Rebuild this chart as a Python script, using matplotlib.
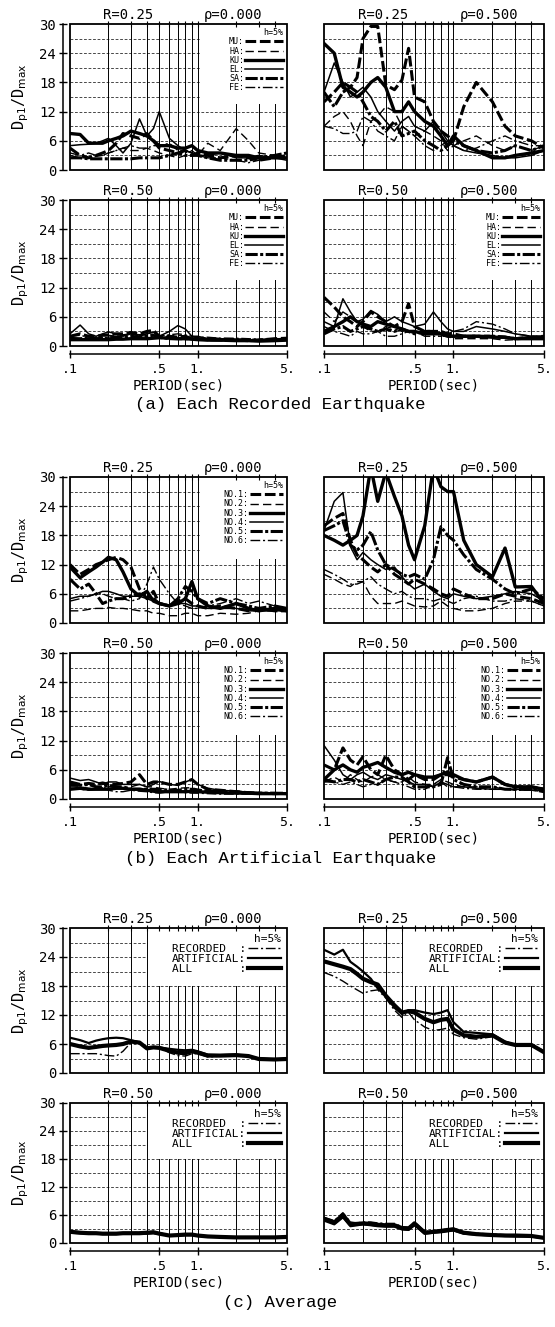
import numpy as np
import matplotlib.pyplot as plt
from matplotlib.patches import Rectangle
from matplotlib.ticker import FixedLocator, FixedFormatter, NullFormatter

plt.rcParams['font.family'] = ['DejaVu Sans Mono', 'DejaVu Sans']
plt.rcParams['mathtext.fontset'] = 'dejavusans'

# natural periods (sec) at which the spectra were plotted
periods = [0.1, 0.12, 0.14, 0.16, 0.18, 0.2, 0.23, 0.26, 0.3, 0.35, 0.4, 0.45, 0.5,
           0.6, 0.7, 0.8, 0.9, 1.0, 1.2, 1.5, 2.0, 2.5, 3.0, 4.0, 5.0]

rec_labels = ['MU:', 'HA:', 'KU:', 'EL:', 'SA:', 'FE:']
art_labels = ['NO.1:', 'NO.2:', 'NO.3:', 'NO.4:', 'NO.5:', 'NO.6:']
avg_labels = ['RECORDED  :', 'ARTIFICIAL:', 'ALL       :']

r_values = ['0.25', '0.25', '0.50', '0.50']
rho_values = ['0.000', '0.500', '0.000', '0.500']

# (a) recorded earthquakes, rows = MU, HA, KU, EL, SA, FE
rec_r25_p0 = [
    [4.5, 3.0, 2.5, 3.0, 3.5, 4.0, 5.5, 7.5, 7.0, 6.5, 7.5, 6.0, 4.5, 4.0, 3.5, 4.0, 3.0, 3.5, 3.0, 2.5, 3.0, 2.5, 2.0, 2.5, 3.0],
    [3.0, 2.5, 2.5, 2.8, 3.0, 3.5, 4.0, 4.5, 4.0, 4.0, 4.5, 4.0, 3.5, 3.0, 2.5, 3.0, 4.0, 3.0, 5.5, 4.0, 8.5, 6.0, 3.5, 3.0, 2.5],
    [7.5, 7.3, 5.5, 5.5, 5.5, 6.0, 6.5, 7.0, 8.0, 7.5, 7.0, 6.0, 5.0, 5.0, 4.5, 4.5, 5.0, 4.0, 3.5, 3.5, 3.0, 3.0, 2.5, 2.5, 2.5],
    [5.0, 5.2, 5.3, 5.5, 6.0, 6.5, 5.0, 3.5, 5.5, 10.5, 7.0, 8.5, 12.0, 6.5, 5.0, 4.0, 3.5, 3.0, 3.0, 3.5, 2.5, 2.5, 3.0, 2.5, 2.0],
    [2.5, 2.5, 2.3, 2.3, 2.3, 2.3, 2.3, 2.3, 2.3, 2.5, 2.5, 2.5, 2.5, 3.0, 3.5, 3.0, 3.0, 3.0, 2.5, 2.0, 2.0, 2.0, 2.5, 3.0, 3.5],
    [3.5, 3.0, 3.5, 3.0, 3.0, 3.5, 4.0, 4.5, 5.0, 4.5, 4.5, 5.0, 5.0, 5.5, 4.0, 4.0, 3.5, 3.0, 2.5, 2.5, 2.0, 1.5, 2.0, 2.5, 2.5],
]
rec_r25_p5 = [
    [14, 16, 18, 17, 19, 27, 29.5, 29.5, 17.5, 16.5, 18.5, 25, 15, 14, 10, 8, 7, 6, 13, 18, 14, 9, 7, 6, 4.5],
    [9, 11, 12, 10, 7, 5, 10, 11, 13, 12, 9, 8, 7, 8, 7, 6, 4, 5, 6, 7, 5, 4, 5, 4, 5],
    [26, 24, 17, 16, 15, 16, 18, 19, 17, 12, 12, 14, 12, 10, 9, 7, 5, 7, 5, 4, 2.5, 2.5, 3, 3.5, 4],
    [16, 22, 18, 15, 16, 17, 15, 12, 10, 8, 10, 11, 9, 8, 10, 8, 6, 5, 4, 3.5, 3, 2.5, 2.5, 3, 4],
    [16, 13, 16, 17, 16, 14, 11, 10, 8, 10, 7, 7.5, 8, 6, 5, 4, 5, 6, 5, 4, 3.5, 4, 5, 4, 5],
    [9, 8.5, 7.5, 7.5, 8, 11, 10, 8, 7, 6, 9, 8, 7, 5, 4, 5, 6, 5, 4, 4.5, 6, 7, 6, 5, 5],
]
rec_r50_p0 = [
    [2.0, 2.5, 2.0, 2.0, 2.2, 2.3, 2.5, 2.5, 2.8, 2.5, 3.0, 3.2, 2.0, 2.0, 1.8, 2.0, 1.5, 1.5, 1.5, 1.4, 1.3, 1.2, 1.2, 1.5, 1.6],
    [1.8, 1.5, 1.5, 1.6, 1.8, 1.8, 2.0, 2.2, 2.5, 2.0, 2.5, 3.0, 1.8, 2.0, 2.2, 2.0, 2.0, 1.6, 1.5, 1.5, 1.4, 1.3, 1.3, 1.4, 1.5],
    [1.3, 1.3, 1.3, 1.3, 1.3, 1.3, 1.4, 1.4, 1.5, 1.5, 1.5, 1.6, 1.7, 1.6, 1.5, 1.5, 1.4, 1.3, 1.2, 1.2, 1.1, 1.1, 1.0, 1.1, 1.2],
    [2.5, 4.3, 2.5, 2.0, 2.5, 2.9, 2.5, 2.0, 2.5, 2.3, 2.5, 2.8, 2.0, 3.0, 4.2, 3.5, 2.0, 2.0, 1.5, 1.5, 1.3, 1.2, 1.3, 1.4, 1.5],
    [1.5, 1.5, 1.6, 1.5, 1.5, 1.6, 1.8, 1.8, 2.0, 1.8, 2.0, 2.2, 1.8, 1.5, 1.5, 1.5, 1.5, 1.4, 1.3, 1.2, 1.2, 1.1, 1.2, 1.3, 1.4],
    [2.0, 2.2, 1.8, 1.8, 2.0, 2.2, 2.0, 2.3, 2.5, 2.2, 2.0, 2.5, 2.0, 2.3, 2.5, 2.3, 2.0, 1.8, 1.8, 1.6, 1.6, 1.5, 1.4, 1.4, 1.5],
]
rec_r50_p5 = [
    [10, 8, 6, 5, 4, 5, 7, 6, 5, 4, 5, 8.7, 4, 3, 3, 3, 2.5, 2.5, 2, 2, 2, 1.8, 1.5, 1.8, 2],
    [7, 5, 7, 6, 5, 4, 3, 3, 4, 3.5, 3, 3, 2.5, 2.5, 3, 2, 2, 1.5, 1.5, 1.5, 1.5, 1.2, 1.3, 1.5, 1.5],
    [3, 4, 5, 6, 5, 4.5, 4, 5, 4.5, 4, 3.5, 3, 3, 2.5, 2.5, 2.5, 2, 2, 2, 2, 1.8, 1.8, 1.5, 1.5, 1.5],
    [5, 4, 9.7, 7, 5, 5.5, 7.3, 6.5, 5, 6, 5, 4.5, 4, 4.5, 7, 5, 3.5, 3, 3, 4, 3.5, 3, 2.5, 2, 2],
    [2.5, 3.5, 4, 3, 3.5, 4, 3.5, 3, 3.5, 3, 3.5, 3, 2.5, 3, 3, 2.5, 2.5, 2, 2, 2, 2, 1.8, 1.5, 1.8, 1.8],
    [4, 3, 2.5, 2, 3, 2.5, 2.5, 3, 2, 2, 2.5, 3, 3, 2, 2, 2, 2.5, 3, 3.5, 5, 4.5, 3.5, 2.5, 2, 2],
]

# (b) artificial earthquakes, rows = NO.1 ... NO.6
art_r25_p0 = [
    [12, 10, 11, 12, 12.5, 13, 13.5, 13, 11.5, 7, 5, 6.5, 4, 3.5, 4.5, 5, 4, 3.5, 3, 3.5, 3, 2.5, 3, 2.5, 2.5],
    [2.5, 2.5, 2.8, 3, 3, 3.2, 3, 3, 2.8, 2.5, 2.5, 2, 2, 1.5, 1.5, 2, 2, 1.5, 1.5, 2, 1.8, 2, 2.5, 2.5, 2.5],
    [11.5, 9.3, 10.5, 11.5, 12.5, 13.5, 13, 10.5, 7, 5.5, 6.5, 4.5, 4, 3.5, 4, 5, 8.5, 5, 3.5, 3, 4, 3, 2.5, 3, 2.5],
    [5, 5.5, 5.5, 6, 6.5, 6.5, 6, 5.5, 5.5, 5.5, 5, 4.5, 4, 3.5, 4, 4, 3.5, 3.5, 3, 3, 3, 2.5, 2.5, 2.5, 2.5],
    [9, 7, 8, 6, 4, 4.5, 5, 5, 5.5, 6, 5.5, 5, 4, 3.5, 5, 7.5, 6.5, 5, 4, 5, 4, 3.5, 3, 3.5, 3],
    [4.5, 5, 5.5, 6, 6, 5.5, 5, 5, 4.5, 5, 8, 11.5, 9, 6, 4, 3.5, 3, 3, 3.5, 4, 5, 4, 4.5, 3.5, 3],
]
art_r25_p5 = [
    [20, 21.5, 22.5, 17, 14, 13, 11.5, 10.5, 12, 10, 9, 8, 9, 8, 7, 6, 5.5, 7, 6, 5, 5, 6, 5.5, 5, 4],
    [10, 9, 8, 7.5, 8.5, 8.5, 5.5, 4, 4, 4, 4.5, 4, 3.5, 3.3, 3.5, 4.5, 3.5, 3, 2.5, 2.5, 3, 4, 4.5, 4.5, 3.5],
    [18, 17, 16, 17, 18, 22, 32, 25, 31, 26, 22, 16, 13, 20, 32, 28, 27, 27, 17, 12, 9.5, 15.4, 7.4, 7.5, 4.0],
    [19, 25, 26.8, 15.7, 13, 14.5, 13, 12, 11, 11.5, 9.5, 8, 7, 8, 6.5, 5.5, 5, 6, 5.5, 5, 5.5, 6, 6.5, 6, 4.5],
    [19, 20, 21, 16, 15, 16, 18.8, 15, 12, 11, 10, 9.5, 10, 9, 13, 19.8, 18, 17, 14, 11, 9, 7, 6, 7, 5],
    [11, 10, 9, 8, 8, 8.5, 9.5, 8, 7, 6, 6.5, 5.5, 5, 5, 4.5, 5, 4.5, 4, 5, 5.5, 4.5, 4.5, 5, 4.5, 3.5],
]
art_r50_p0 = [
    [3.5, 3, 3.2, 3, 3.3, 3, 3, 3.2, 3.5, 5, 3, 3.5, 3.5, 3, 3, 3.5, 4, 3, 2, 1.8, 1.5, 1.3, 1.2, 1.1, 1.2],
    [2.5, 2.5, 2.2, 2, 2.3, 2.5, 2.5, 2.3, 2.5, 3, 2.5, 2.5, 2.2, 2, 2.2, 2.3, 2.3, 2, 1.8, 1.6, 1.5, 1.4, 1.3, 1.2, 1.2],
    [2, 2.2, 2, 2, 2, 2, 2.2, 2.2, 2, 2, 1.8, 1.6, 1.5, 1.5, 1.5, 1.5, 1.6, 1.5, 1.4, 1.3, 1.2, 1.2, 1.1, 1.1, 1.1],
    [4.3, 3.8, 4, 3.5, 3, 3.5, 3.5, 3, 3, 3, 2.5, 3, 3.6, 3, 2.8, 3.5, 4, 3, 2.2, 1.8, 1.6, 1.4, 1.3, 1.2, 1.2],
    [3, 2.8, 3, 2.5, 2.5, 2.8, 2.5, 2.5, 2, 2, 2, 2, 2, 1.8, 1.8, 2, 2, 1.8, 1.6, 1.5, 1.5, 1.2, 1.2, 1.2, 1.1],
    [2.2, 2, 1.8, 2, 2.5, 1.8, 1.5, 1.5, 1.8, 1.6, 1.5, 1.3, 1.2, 1.5, 1.6, 1.3, 1.2, 1.2, 1.1, 1.0, 1.0, 1.0, 1.0, 1.0, 1.0],
]
art_r50_p5 = [
    [7, 6, 10.5, 8, 7, 8.7, 6, 5, 9, 6, 5, 4, 5, 4, 4, 5, 5, 4.5, 4, 3.5, 4.5, 3, 2.5, 2.5, 2],
    [3.5, 4.5, 3.5, 5, 4, 3.5, 4.5, 5, 4, 3.5, 3.5, 4.5, 3.5, 3, 3, 4, 3.5, 3, 2.5, 2.5, 2.5, 2, 2, 1.8, 1.8],
    [4, 6, 7, 6, 5.5, 6.5, 7, 7.5, 6.5, 5.5, 5, 5.5, 5, 4.5, 4.5, 5, 5.5, 5, 4, 3.5, 4.5, 3, 2.5, 2.5, 2],
    [11, 8, 5, 4, 5, 5.5, 4.5, 4, 5, 4.5, 4, 3.5, 3, 3, 2.5, 3.5, 3, 2.5, 2.5, 2.2, 2, 2, 2, 1.8, 1.8],
    [4, 3.5, 4, 4, 3.5, 4, 3.5, 3, 4, 4.5, 4.5, 3.5, 2.5, 2.5, 2.5, 3, 8.5, 4, 3, 2.5, 2.5, 2, 2, 2, 1.5],
    [3.5, 3.5, 3, 3.5, 3, 2.5, 3, 3, 4, 3.5, 3, 2.5, 2, 2, 3, 3.5, 2.5, 2.5, 2.2, 2, 2, 2, 1.8, 1.8, 1.5],
]

# (c) averages, rows = RECORDED, ARTIFICIAL, ALL
avg_r25_p0 = [
    [4, 4, 4, 4, 3.8, 3.6, 3.5, 4.5, 6.3, 6.2, 5, 5.2, 5.2, 4.2, 3.6, 3.5, 4, 4, 3.3, 3.5, 3.6, 3.5, 2.8, 2.8, 2.9],
    [7.3, 6.8, 6.2, 6.7, 7.0, 7.2, 7.3, 7.2, 6.8, 6.3, 5.2, 5.4, 5.3, 5.0, 4.8, 4.7, 4.8, 4.5, 3.8, 3.7, 3.8, 3.5, 3.0, 2.8, 3.0],
    [6, 5.5, 5.2, 5.4, 5.6, 5.7, 5.8, 6.0, 6.5, 6.3, 5.1, 5.3, 5.2, 4.6, 4.2, 4.1, 4.5, 4.2, 3.6, 3.6, 3.7, 3.5, 2.9, 2.8, 2.9],
]
avg_r25_p5 = [
    [20.8, 20, 19, 18, 17.2, 16.5, 17, 17.2, 15.5, 13, 11.5, 12.5, 11, 9.5, 8.8, 9, 9.3, 8, 7.3, 7, 7.5, 6.5, 5.8, 5.8, 4.2],
    [25.5, 24.5, 25.5, 23, 22, 21, 19.5, 17.5, 16, 13.5, 12.2, 13, 13, 12.5, 12.2, 12.5, 13, 10.5, 8.5, 8.3, 8, 6.5, 5.8, 5.8, 4.5],
    [23.1, 22.5, 22, 21.5, 20.5, 19.5, 18.8, 18.3, 16, 14, 12.5, 12.8, 12.5, 11.2, 10.5, 11, 11.2, 9, 7.8, 7.5, 7.8, 6.3, 5.8, 5.8, 4.3],
]
avg_r50_p0 = [
    [2.6, 2.4, 2.3, 2.2, 2.2, 2.1, 2.2, 2.2, 2.2, 2.3, 2.4, 2.5, 2.2, 1.7, 1.8, 1.9, 1.9, 1.7, 1.5, 1.4, 1.3, 1.2, 1.2, 1.3, 1.4],
    [2.2, 2.1, 2.0, 2.0, 1.9, 1.9, 1.9, 2.0, 2.0, 2.0, 2.0, 2.1, 1.9, 1.6, 1.6, 1.7, 1.7, 1.5, 1.4, 1.3, 1.2, 1.1, 1.1, 1.1, 1.2],
    [2.4, 2.2, 2.1, 2.1, 2.0, 2.0, 2.0, 2.1, 2.1, 2.1, 2.2, 2.3, 2.0, 1.6, 1.7, 1.8, 1.8, 1.6, 1.4, 1.3, 1.2, 1.2, 1.2, 1.2, 1.3],
]
avg_r50_p5 = [
    [5.5, 4.8, 6.5, 4.5, 4.3, 4.5, 4.5, 4.3, 4.2, 4.2, 3.5, 3.4, 4.5, 2.5, 2.6, 2.8, 3.0, 3.2, 2.4, 2.1, 1.9, 1.8, 1.7, 1.6, 1.2],
    [4.8, 4.0, 5.5, 3.6, 3.8, 4.0, 3.8, 3.6, 3.5, 3.5, 2.9, 2.8, 3.8, 2.0, 2.2, 2.3, 2.5, 2.7, 2.0, 1.8, 1.6, 1.5, 1.4, 1.4, 1.0],
    [5.2, 4.4, 6.0, 4.0, 4.1, 4.2, 4.1, 3.9, 3.8, 3.8, 3.2, 3.1, 4.2, 2.2, 2.4, 2.6, 2.8, 2.9, 2.2, 1.9, 1.7, 1.6, 1.6, 1.5, 1.1],
]

captions = ['(a) Each Recorded Earthquake', '(b) Each Artificial Earthquake', '(c) Average']

# line styles (black plotter pens)
six_styles = [
    dict(lw=2.2, ls=(0, (3.5, 1.2))),
    dict(lw=1.0, ls=(0, (6, 3))),
    dict(lw=2.4, ls='-'),
    dict(lw=1.1, ls='-'),
    dict(lw=2.2, ls=(0, (4, 0.8, 1, 0.8))),
    dict(lw=1.0, ls=(0, (7, 2, 1.5, 2))),
]
avg_styles = [
    dict(lw=1.0, ls=(0, (7, 2, 1.5, 2))),
    dict(lw=1.6, ls='-'),
    dict(lw=3.0, ls='-'),
]

hgrid = np.arange(3, 30, 3)
vgrid = [0.2, 0.3, 0.4, 0.5, 0.6, 0.7, 0.8, 0.9, 1.0, 2.0, 3.0, 4.0]

W, H = 555, 1327
fig = plt.figure(figsize=(W / 100, H / 100), dpi=100)


def make_axes(top, bottom, col):
    x0, w = (70, 217) if col == 0 else (324, 220)
    return fig.add_axes([x0 / W, 1 - bottom / H, w / W, (bottom - top) / H])


def draw_panel(ax, data, labels, styles, k, legend_box, leg_size, hlen, lspace):
    first_col = k % 2 == 0
    bottom_row = k >= 2
    ax.set_xscale('log')
    for v in hgrid:
        ax.axhline(v, color='black', lw=0.5, ls=(0, (4, 2.5)), zorder=0.8)
    for p in vgrid:
        ax.axvline(p, color='black', lw=0.7, zorder=0.8)
    lines = []
    for ys, st in zip(data, styles):
        ln, = ax.plot(periods, ys, color='black', zorder=2, **st)
        lines.append(ln)
    ax.set_xlim(0.1, 5)
    ax.set_ylim(0, 30)

    if legend_box is not None:
        x0, y0 = legend_box
        ax.add_patch(Rectangle((x0, y0), 1 - x0, 1 - y0, transform=ax.transAxes,
                               facecolor='white', edgecolor='none', zorder=1))
        ax.legend(lines, labels, loc='upper right', frameon=False, markerfirst=False,
                  title='h=5%', alignment='right',
                  prop=dict(family='DejaVu Sans Mono', size=leg_size),
                  title_fontsize=leg_size, handlelength=hlen, handletextpad=0.15,
                  labelspacing=lspace, borderaxespad=0.2, borderpad=0.3)

    ax.add_patch(Rectangle((0, 0), 1, 1, transform=ax.transAxes, fill=False,
                           edgecolor='black', lw=1.3, zorder=4, clip_on=False))
    ax.set_axisbelow(False)
    for s in ['top', 'right']:
        ax.spines[s].set_visible(False)

    ax.xaxis.set_major_locator(FixedLocator([0.1, 0.5, 1.0, 5.0]))
    ax.xaxis.set_major_formatter(FixedFormatter(['.1', '.5', '1.', '5.']))
    ax.xaxis.set_minor_locator(FixedLocator(vgrid))
    ax.xaxis.set_minor_formatter(NullFormatter())
    ax.xaxis.remove_overlapping_locs = False
    ax.tick_params(axis='x', which='minor', bottom=False, top=True,
                   direction='inout', length=4, width=0.8)
    if bottom_row:
        ax.spines['bottom'].set_position(('outward', 6))
        ax.spines['bottom'].set_linewidth(1.1)
        ax.tick_params(axis='x', which='major', bottom=True, top=False,
                       direction='inout', length=6, width=1, labelsize=9.5, pad=3)
        ax.set_xlabel('PERIOD(sec)', fontsize=10, labelpad=2)
    else:
        ax.spines['bottom'].set_visible(False)
        ax.tick_params(axis='x', which='major', bottom=False, top=False, labelbottom=False)

    ax.set_yticks([0, 6, 12, 18, 24, 30])
    if first_col:
        ax.spines['left'].set_position(('outward', 5))
        ax.spines['left'].set_linewidth(1.1)
        ax.tick_params(axis='y', direction='inout', length=6, width=1, labelsize=10, pad=2)
        ax.set_ylabel(r'D$_{\rm p1}$/D$_{\rm max}$', fontsize=11, labelpad=6)
    else:
        ax.spines['left'].set_visible(False)
        ax.tick_params(axis='y', left=False, labelleft=False)

    ax.text(0.27, 1.012, 'R=' + r_values[k], transform=ax.transAxes,
            ha='center', va='bottom', fontsize=10)
    ax.text(0.75, 1.012, 'ρ=' + rho_values[k], transform=ax.transAxes,
            ha='center', va='bottom', fontsize=10)


# pixel rows (top, bottom) of each panel row
rows_px = [(24, 170), (200, 346), (477, 623), (653, 799), (928, 1073), (1103, 1243)]

groups = [
    ([rec_r25_p0, rec_r25_p5, rec_r50_p0, rec_r50_p5], rec_labels, six_styles,
     [(0.6, 0.45), None, (0.6, 0.45), (0.6, 0.45)], 6.0, 4.5, 0.02),
    ([art_r25_p0, art_r25_p5, art_r50_p0, art_r50_p5], art_labels, six_styles,
     [(0.6, 0.44), None, (0.6, 0.44), (0.6, 0.44)], 6.0, 4.0, 0.02),
    ([avg_r25_p0, avg_r25_p5, avg_r50_p0, avg_r50_p5], avg_labels, avg_styles,
     [(0.36, 0.6)] * 4, 8.0, 3.0, 0.02),
]

for g, (panels, labels, styles, boxes, fs, hl, lsp) in enumerate(groups):
    for k in range(4):
        top, bottom = rows_px[2 * g + k // 2]
        ax = make_axes(top, bottom, k % 2)
        draw_panel(ax, panels[k], labels, styles, k, boxes[k], fs, hl, lsp)

caption_y = [405, 858, 1303]
for cap, yy in zip(captions, caption_y):
    fig.text(0.505, 1 - yy / H, cap, ha='center', va='center',
             family='Liberation Mono', fontsize=12.5)

fig.savefig('out.png', dpi=100)
